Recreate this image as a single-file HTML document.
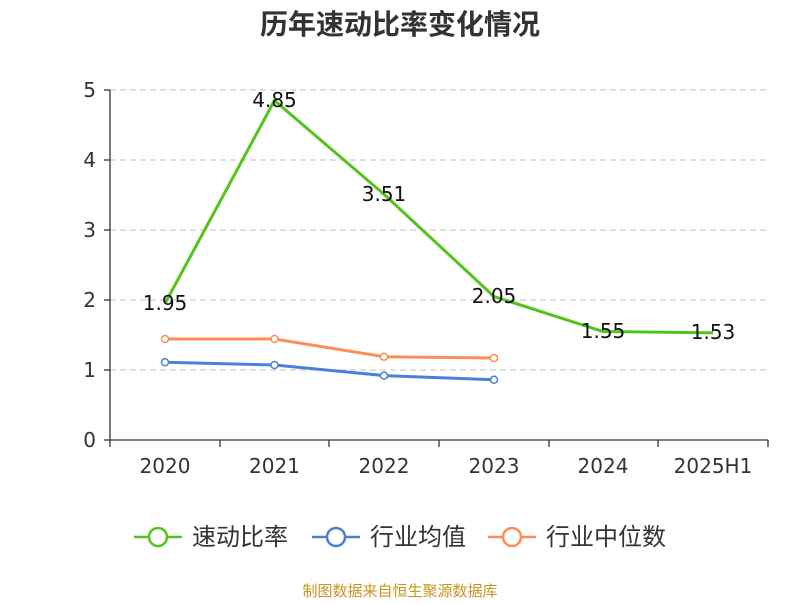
<!DOCTYPE html>
<html><head><meta charset="utf-8"><style>
body{margin:0;background:#fff;}
text{font-family:"DejaVu Sans","Noto Sans CJK SC",sans-serif;}
</style></head><body>
<svg width="800" height="600" xmlns="http://www.w3.org/2000/svg">
<text x="400" y="34" text-anchor="middle" font-size="28" font-weight="bold" fill="#333" style="font-family:'Noto Sans CJK SC',sans-serif">历年速动比率变化情况</text>
<g stroke="#ccc" stroke-dasharray="6,4" stroke-width="1.2">
<line x1="110" y1="90" x2="768" y2="90"/><line x1="110" y1="160" x2="768" y2="160"/>
<line x1="110" y1="230" x2="768" y2="230"/><line x1="110" y1="300" x2="768" y2="300"/>
<line x1="110" y1="370" x2="768" y2="370"/></g>
<g stroke="#333" stroke-width="1.3">
<line x1="110" y1="90" x2="110" y2="440"/><line x1="110" y1="440" x2="768" y2="440"/>
<line x1="104" y1="90" x2="110" y2="90"/><line x1="104" y1="160" x2="110" y2="160"/><line x1="104" y1="230" x2="110" y2="230"/><line x1="104" y1="300" x2="110" y2="300"/><line x1="104" y1="370" x2="110" y2="370"/><line x1="104" y1="440" x2="110" y2="440"/>
<line x1="110" y1="440" x2="110" y2="447"/><line x1="220" y1="440" x2="220" y2="447"/><line x1="329" y1="440" x2="329" y2="447"/><line x1="439" y1="440" x2="439" y2="447"/><line x1="549" y1="440" x2="549" y2="447"/><line x1="658" y1="440" x2="658" y2="447"/><line x1="768" y1="440" x2="768" y2="447"/>
</g>
<g font-size="20" fill="#333" text-anchor="end">
<text x="96" y="97">5</text><text x="96" y="167">4</text><text x="96" y="237">3</text><text x="96" y="307">2</text><text x="96" y="377">1</text><text x="96" y="447">0</text></g>
<g font-size="20" fill="#333" text-anchor="middle">
<text x="165" y="473">2020</text><text x="274.5" y="473">2021</text><text x="384" y="473">2022</text><text x="494" y="473">2023</text><text x="603" y="473">2024</text><text x="713" y="473">2025H1</text></g>
<polyline fill="none" stroke="#52c41a" stroke-width="3" points="165,303.5 274.5,100.5 384,194.3 494,296.5 603,331.5 713,332.9"/>
<polyline fill="none" stroke="#4a7fdc" stroke-width="3" points="165,362.3 274.5,365 384,375.6 494,379.8"/>
<polyline fill="none" stroke="#ff8c55" stroke-width="3" points="165,339 274.5,339 384,356.7 494,358"/>
<g fill="#fff" stroke="#4a7fdc" stroke-width="1.5"><circle cx="165" cy="362.3" r="3.5"/><circle cx="274.5" cy="365" r="3.5"/><circle cx="384" cy="375.6" r="3.5"/><circle cx="494" cy="379.8" r="3.5"/></g>
<g fill="#fff" stroke="#ff8c55" stroke-width="1.5"><circle cx="165" cy="339" r="3.5"/><circle cx="274.5" cy="339" r="3.5"/><circle cx="384" cy="356.7" r="3.5"/><circle cx="494" cy="358" r="3.5"/></g>
<g font-size="20" fill="#111" text-anchor="middle">
<text x="165" y="310">1.95</text><text x="274.5" y="107">4.85</text><text x="384" y="201">3.51</text><text x="494" y="303">2.05</text><text x="603" y="338">1.55</text><text x="713" y="339">1.53</text></g>
<g stroke-width="2.5" fill="#fff">
<line x1="134" y1="537" x2="182" y2="537" stroke="#52c41a"/><circle cx="158" cy="537" r="9" stroke="#52c41a"/>
<line x1="312" y1="537" x2="360" y2="537" stroke="#4a7fdc"/><circle cx="336" cy="537" r="9" stroke="#4a7fdc"/>
<line x1="488" y1="537" x2="536" y2="537" stroke="#ff8c55"/><circle cx="512" cy="537" r="9" stroke="#ff8c55"/>
</g>
<g font-size="24" fill="#333"><text x="192" y="545">速动比率</text><text x="370" y="545">行业均值</text><text x="546" y="545">行业中位数</text></g>
<text x="400" y="596" text-anchor="middle" font-size="15" fill="#c8961e">制图数据来自恒生聚源数据库</text>
</svg>
</body></html>
